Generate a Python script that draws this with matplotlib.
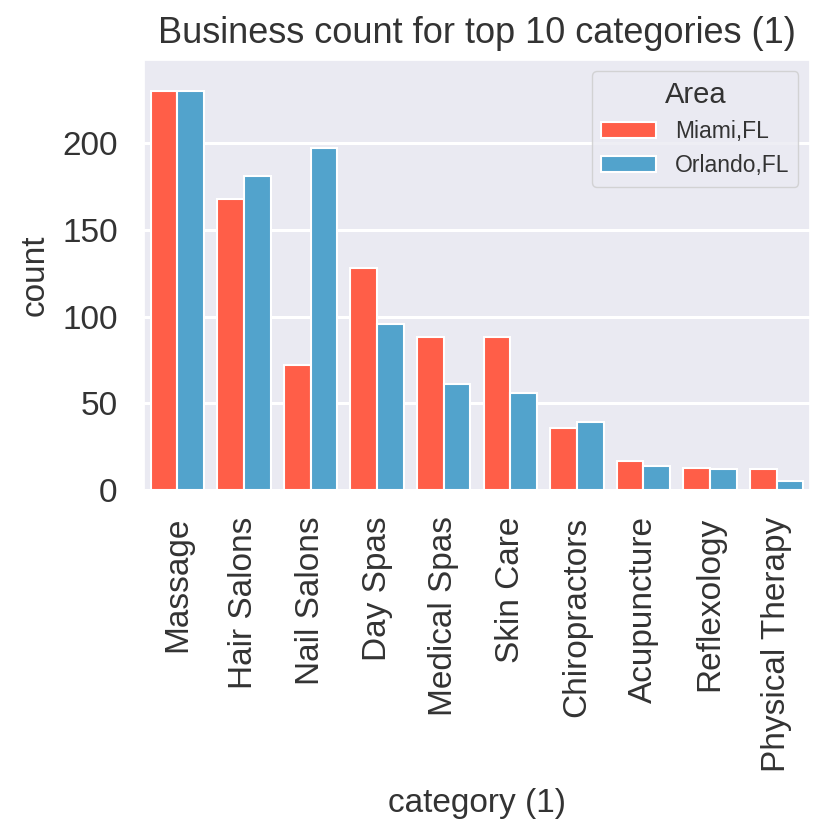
import pandas as pd
import matplotlib
matplotlib.use("Agg")
import matplotlib.pyplot as plt
import seaborn as sns

categories = ['Massage', 'Hair Salons', 'Nail Salons', 'Day Spas', 'Medical Spas',
              'Skin Care', 'Chiropractors', 'Acupuncture', 'Reflexology', 'Physical Therapy']
miami = [230, 168, 72, 128, 88, 88, 36, 17, 13, 12]
orlando = [230, 181, 197, 96, 61, 56, 39, 14, 12, 5]
areas = ['Miami,FL', 'Orlando,FL']
colors = ['#FF5E48', '#52A3CC']

df = pd.DataFrame({
    'category (1)': categories * 2,
    'count': miami + orlando,
    'Area': [areas[0]] * len(categories) + [areas[1]] * len(categories),
})

sns.set_theme(style='darkgrid', rc={'grid.linewidth': 2.2})
plt.rcParams['font.family'] = ['Liberation Sans', 'DejaVu Sans']

fig, ax = plt.subplots(figsize=(8.14, 8.32), dpi=100)
fig.subplots_adjust(left=0.177, right=0.995, top=0.928, bottom=0.411)

sns.barplot(data=df, x='category (1)', y='count', hue='Area', order=categories,
            hue_order=areas, palette=colors, saturation=1, edgecolor='white',
            linewidth=1.5, ax=ax)

ax.set_ylim(0, 248)
ax.set_yticks([0, 50, 100, 150, 200])
ax.tick_params(axis='both', labelsize=24, colors='#333333', pad=13)
ax.tick_params(axis='x', rotation=90)
ax.set_xlabel('category (1)', fontsize=24, color='#333333', labelpad=12)
ax.set_ylabel('count', fontsize=24, color='#333333', labelpad=8)
ax.set_title('Business count for top 10 categories (1)', fontsize=26, color='#333333', pad=12)

leg = ax.legend(title='Area', loc='upper right', fontsize=16.5, title_fontsize=21,
                handlelength=2.4, borderaxespad=0.5)
plt.setp(leg.get_texts(), color='#333333')
leg.get_title().set_color('#333333')

plt.savefig('out.png', dpi=100)
